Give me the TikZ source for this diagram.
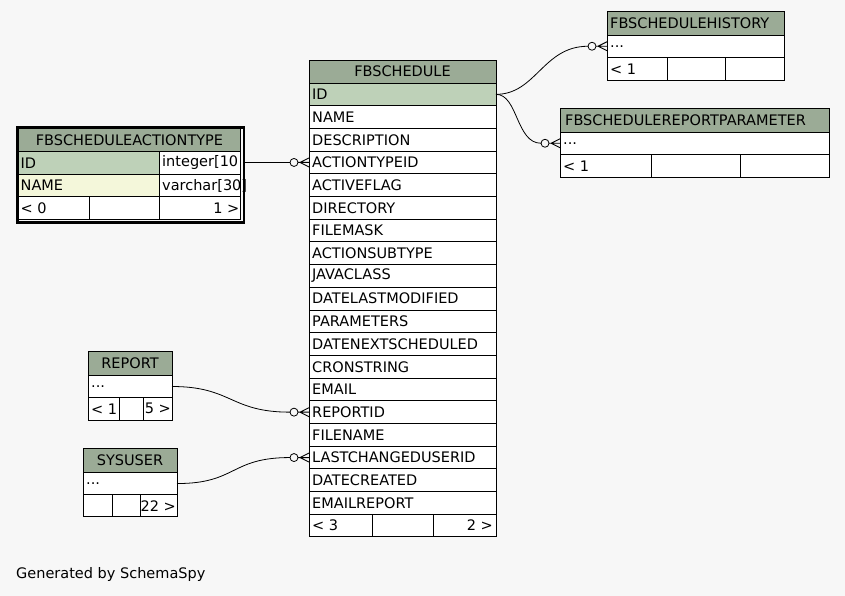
\documentclass[tikz,border=0pt]{standalone}
\usepackage{fontspec}
\setmainfont{DejaVu Sans}
\definecolor{bg}{HTML}{F7F7F7}
\definecolor{head}{HTML}{9BAB96}
\definecolor{pk}{HTML}{BED1B8}
\definecolor{idx}{HTML}{F4F7DA}
\tikzset{
  crowodot/.pic={
    \draw[line width=0.9pt] (-11,0) -- (0,0) (-9,0) -- (0,-4.5) (-9,0) -- (0,4.5);
    \draw[line width=0.8pt, fill=bg] (-15,0) circle[radius=4];
  }
}
\begin{document}
\begin{tikzpicture}[x=1pt, y=-1pt,
  cellbox/.style={draw=black, line width=0.9pt, anchor=north west, inner sep=0pt, outer sep=0pt, font=\fontsize{14.5}{16}\selectfont},
  ltxt/.style={anchor=west, inner sep=0pt, font=\fontsize{14.5}{16}\selectfont},
  rtxt/.style={anchor=east, inner sep=0pt, font=\fontsize{14.5}{16}\selectfont},
  conn/.style={line width=0.8pt}]
\useasboundingbox[fill=bg] (0,0) rectangle (845,596);

% ---------- FBSCHEDULE ----------
\node[cellbox, fill=head, minimum width=187pt, minimum height=23pt] (fs-h) at (309,60) {FBSCHEDULE};
\node[cellbox, fill=pk, minimum width=187pt, minimum height=22.7pt] (fs-1) at (309,83) {};
\node[ltxt] (fs-1t) at ([xshift=3pt]fs-1.west) {ID};
\foreach \t [count=\i from 2] in {NAME,DESCRIPTION,ACTIONTYPEID,ACTIVEFLAG,DIRECTORY,FILEMASK,ACTIONSUBTYPE,JAVACLASS,DATELASTMODIFIED,PARAMETERS,DATENEXTSCHEDULED,CRONSTRING,EMAIL,REPORTID,FILENAME,LASTCHANGEDUSERID,DATECREATED,EMAILREPORT}{
  \node[cellbox, fill=white, minimum width=187pt, minimum height=22.7pt] (fs-\i) at (309,{83+22.7*(\i-1)}) {};
  \node[ltxt] (fs-\i t) at ([xshift=3pt]fs-\i.west) {\t};
}
\node[cellbox, fill=white, minimum width=63pt, minimum height=22pt] (fs-f1) at (309,514.3) {};
\node[cellbox, fill=white, minimum width=61pt, minimum height=22pt] (fs-f2) at (372,514.3) {};
\node[cellbox, fill=white, minimum width=63pt, minimum height=22pt] (fs-f3) at (433,514.3) {};
\node[ltxt] (fs-f1t) at ([xshift=3pt]fs-f1.west) {< 3};
\node[rtxt] (fs-f3t) at ([xshift=-3pt]fs-f3.east) {2 >};

% ---------- FBSCHEDULEACTIONTYPE ----------
\node[draw=black, line width=2.5pt, anchor=north west, inner sep=0pt, minimum width=226.6pt, minimum height=95pt] (at-frame) at (16.2,126.2) {};
\node[cellbox, fill=head, minimum width=222pt, minimum height=23.2pt] (at-h) at (18.5,128.5) {FBSCHEDULEACTIONTYPE};
\node[cellbox, fill=pk, minimum width=140.5pt, minimum height=22.5pt] (at-1) at (18.5,151.7) {};
\node[cellbox, fill=white, minimum width=81.5pt, minimum height=22.5pt] (at-1r) at (159,151.7) {};
\node[cellbox, fill=idx, minimum width=140.5pt, minimum height=22.5pt] (at-2) at (18.5,174.2) {};
\node[cellbox, fill=white, minimum width=81.5pt, minimum height=22.5pt] (at-2r) at (159,174.2) {};
\node[cellbox, fill=white, minimum width=70.5pt, minimum height=22.5pt] (at-f1) at (18.5,196.7) {};
\node[cellbox, fill=white, minimum width=70pt, minimum height=22.5pt] (at-f2) at (89,196.7) {};
\node[cellbox, fill=white, minimum width=81.5pt, minimum height=22.5pt] (at-f3) at (159,196.7) {};
\node[ltxt] (at-1t) at ([xshift=2pt]at-1.west) {ID};
\node[ltxt] (at-1rt) at ([xshift=3pt]at-1r.west) {integer[10};
\node[ltxt] (at-2t) at ([xshift=2pt]at-2.west) {NAME};
\node[ltxt] (at-2rt) at ([xshift=3pt]at-2r.west) {varchar[30]};
\node[ltxt] (at-f1t) at ([xshift=2pt]at-f1.west) {< 0};
\node[rtxt] (at-f3t) at ([xshift=-1pt]at-f3.east) {1 >};

% ---------- FBSCHEDULEHISTORY ----------
\node[cellbox, fill=head, minimum width=177pt, minimum height=24pt] (fh-h) at (607,11) {};
\node[ltxt] (fh-ht) at ([xshift=3pt]fh-h.west) {FBSCHEDULEHISTORY};
\node[cellbox, fill=white, minimum width=177pt, minimum height=22.5pt] (fh-1) at (607,35) {};
\node[ltxt] (fh-1t) at ([xshift=3pt]fh-1.west) {...};
\node[cellbox, fill=white, minimum width=60pt, minimum height=22.5pt] (fh-f1) at (607,57.5) {};
\node[cellbox, fill=white, minimum width=58pt, minimum height=22.5pt] (fh-f2) at (667,57.5) {};
\node[cellbox, fill=white, minimum width=59pt, minimum height=22.5pt] (fh-f3) at (725,57.5) {};
\node[ltxt] (fh-f1t) at ([xshift=3pt]fh-f1.west) {< 1};

% ---------- FBSCHEDULEREPORTPARAMETER ----------
\node[cellbox, fill=head, minimum width=269pt, minimum height=24pt] (fp-h) at (560,108) {};
\node[ltxt] (fp-ht) at ([xshift=5pt]fp-h.west) {FBSCHEDULEREPORTPARAMETER};
\node[cellbox, fill=white, minimum width=269pt, minimum height=22.5pt] (fp-1) at (560,132) {};
\node[ltxt] (fp-1t) at ([xshift=3pt]fp-1.west) {...};
\node[cellbox, fill=white, minimum width=91pt, minimum height=22.5pt] (fp-f1) at (560,154.5) {};
\node[cellbox, fill=white, minimum width=89pt, minimum height=22.5pt] (fp-f2) at (651,154.5) {};
\node[cellbox, fill=white, minimum width=89pt, minimum height=22.5pt] (fp-f3) at (740,154.5) {};
\node[ltxt] (fp-f1t) at ([xshift=3pt]fp-f1.west) {< 1};

% ---------- REPORT ----------
\node[cellbox, fill=head, minimum width=84pt, minimum height=24pt] (rp-h) at (88,351.5) {REPORT};
\node[cellbox, fill=white, minimum width=84pt, minimum height=22pt] (rp-1) at (88,375.5) {};
\node[ltxt] (rp-1t) at ([xshift=3pt]rp-1.west) {...};
\node[cellbox, fill=white, minimum width=31pt, minimum height=22.5pt] (rp-f1) at (88,397.5) {};
\node[cellbox, fill=white, minimum width=24pt, minimum height=22.5pt] (rp-f2) at (119,397.5) {};
\node[cellbox, fill=white, minimum width=29pt, minimum height=22.5pt] (rp-f3) at (143,397.5) {};
\node[ltxt] (rp-f1t) at ([xshift=3pt]rp-f1.west) {< 1};
\node[rtxt] (rp-f3t) at ([xshift=-1pt]rp-f3.east) {5 >};

% ---------- SYSUSER ----------
\node[cellbox, fill=head, minimum width=94pt, minimum height=24pt] (su-h) at (83,448.3) {SYSUSER};
\node[cellbox, fill=white, minimum width=94pt, minimum height=22.5pt] (su-1) at (83,472.3) {};
\node[ltxt] (su-1t) at ([xshift=3pt]su-1.west) {...};
\node[cellbox, fill=white, minimum width=29pt, minimum height=22pt] (su-f1) at (83,494.8) {};
\node[cellbox, fill=white, minimum width=28pt, minimum height=22pt] (su-f2) at (112,494.8) {};
\node[cellbox, fill=white, minimum width=37pt, minimum height=22pt] (su-f3) at (140,494.8) {};
\node[rtxt] (su-f3t) at ([xshift=-1pt]su-f3.east) {22 >};

% ---------- connectors ----------
\coordinate (e-hist) at (fh-1.west);
\coordinate (e-param) at (fp-1.west);
\coordinate (e-atid) at (fs-4.west);
\coordinate (e-rpid) at (fs-15.west);
\coordinate (e-luid) at (fs-17.west);
\coordinate (s-id) at (fs-1.east);

\draw[conn] (s-id) .. controls +(40,0) and +(-45,0) .. ([xshift=-19pt]e-hist);
\draw[conn] (s-id) .. controls +(22,0) and +(-25,0) .. ([xshift=-19pt]e-param);
\draw[conn] (at-frame.east |- e-atid) -- ([xshift=-19pt]e-atid);
\draw[conn] (rp-1.east) .. controls +(60,0) and +(-60,0) .. ([xshift=-19pt]e-rpid);
\draw[conn] (su-1.east) .. controls +(60,0) and +(-60,0) .. ([xshift=-19pt]e-luid);

\pic at (e-hist) {crowodot};
\pic at (e-param) {crowodot};
\pic at (e-atid) {crowodot};
\pic at (e-rpid) {crowodot};
\pic at (e-luid) {crowodot};

\node[ltxt] (gen) at (16,574) {Generated by SchemaSpy};
\end{tikzpicture}
\end{document}
